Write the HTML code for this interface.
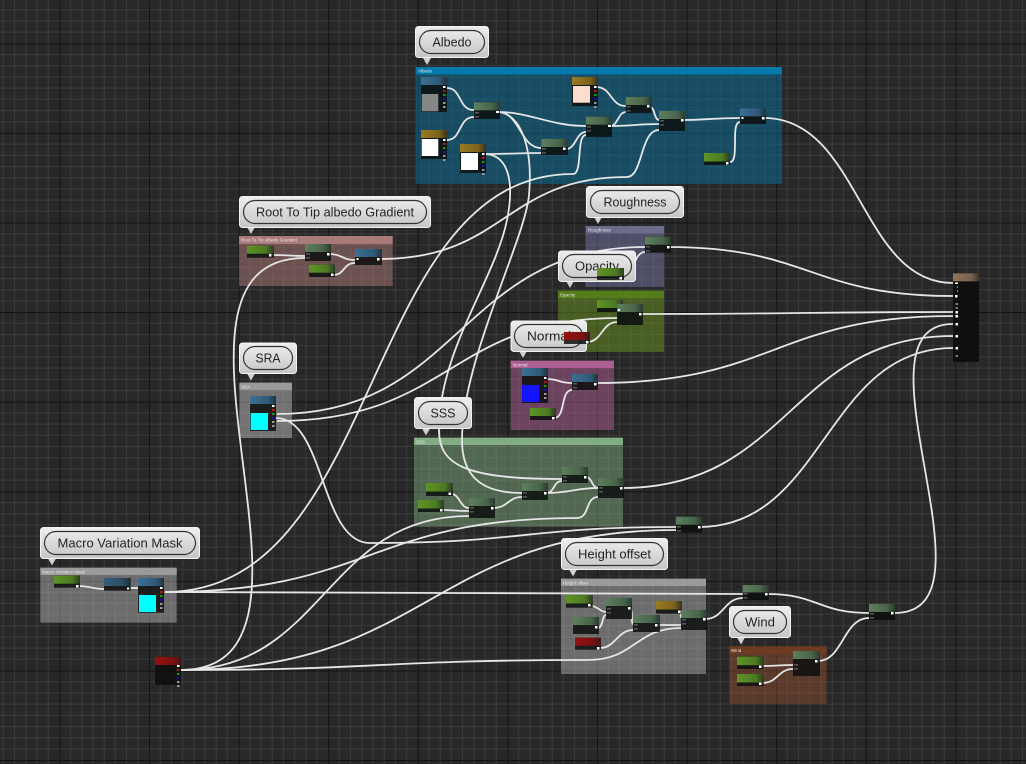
<!DOCTYPE html>
<html><head><meta charset="utf-8"><style>
html,body{margin:0;padding:0;background:#282828}
svg{display:block}
.w{fill:none;stroke:#e6e6e6;stroke-width:1.8}
.b{fill:rgba(12,14,14,.84)}
.p{fill:#fff}
.t{font:13px "Liberation Sans",sans-serif;fill:#242424;text-anchor:middle}
.h{font:4.5px "Liberation Sans",sans-serif;fill:#e8e8e8}
.pill{fill:none;stroke:#333;stroke-width:1.2}
.bub{fill:url(#bg);stroke:#f2f2f2;stroke-width:1}
.soft{filter:blur(.3px)}
</style></head><body>
<svg xmlns="http://www.w3.org/2000/svg" width="1026" height="764" viewBox="0 0 1026 764">
<defs>
<pattern id="grid" patternUnits="userSpaceOnUse" x="59.4" y="43.3" width="89.6" height="89.6">
<path d="M11.2 0V89.6M22.4 0V89.6M33.6 0V89.6M44.8 0V89.6M56 0V89.6M67.2 0V89.6M78.4 0V89.6M0 11.2H89.6M0 22.4H89.6M0 33.6H89.6M0 44.8H89.6M0 56H89.6M0 67.2H89.6M0 78.4H89.6" stroke="#3b3b3b" stroke-width="1.1" fill="none"/>
<path d="M.4 0V89.6M0 .4H89.6" stroke="#141414" stroke-width="1.1" fill="none"/>
</pattern>
<linearGradient id="bg" x1="0" y1="0" x2="0" y2="1"><stop offset="0" stop-color="#eeeeee"/><stop offset="1" stop-color="#c6c6c6"/></linearGradient>
<linearGradient id="G"><stop offset="0" stop-color="#5d7f5c"/><stop offset=".7" stop-color="#48644a"/><stop offset="1" stop-color="#2a3a30"/></linearGradient>
<linearGradient id="L"><stop offset="0" stop-color="#5f9425"/><stop offset=".7" stop-color="#4c7a22"/><stop offset="1" stop-color="#2c3a20"/></linearGradient>
<linearGradient id="B"><stop offset="0" stop-color="#3c6f94"/><stop offset=".7" stop-color="#2f5a78"/><stop offset="1" stop-color="#22323c"/></linearGradient>
<linearGradient id="O"><stop offset="0" stop-color="#9a7a20"/><stop offset=".7" stop-color="#7c621c"/><stop offset="1" stop-color="#3a3220"/></linearGradient>
<linearGradient id="R"><stop offset="0" stop-color="#961010"/><stop offset=".7" stop-color="#7c1010"/><stop offset="1" stop-color="#3a1a1a"/></linearGradient>
<linearGradient id="F"><stop offset="0" stop-color="#8f7358"/><stop offset=".7" stop-color="#78634f"/><stop offset="1" stop-color="#40382e"/></linearGradient>
<g id="pins"><rect x="0" y="0" width="2.5" height="2" fill="#fff"/><rect x="0" y="4" width="2.5" height="2" fill="#d01010"/><rect x="0" y="8" width="2.5" height="2" fill="#10a010"/><rect x="0" y="12" width="2.5" height="2" fill="#1010c0"/><rect x="0" y="16" width="2.5" height="2" fill="#999"/><rect x="0" y="20" width="2.5" height="2" fill="#999"/></g>
<g id="in"><rect x="0" y="0" width="4" height="1.6" fill="#555"/><rect x="0" y="4" width="4" height="1.6" fill="#555"/></g>
</defs>
<rect width="1026" height="764" fill="#282828"/>
<g class="soft">
<rect width="1026" height="764" fill="url(#grid)"/>

<!-- comment boxes -->
<rect x="415.5" y="67" width="366.5" height="117" fill="rgba(8,112,158,.5)"/><rect x="415.5" y="67" width="366.5" height="7.5" fill="#0079ab"/><text x="418" y="72.3" class="h">Albedo</text>
<rect x="239" y="236" width="153.7" height="50" fill="rgba(190,130,130,.45)"/><rect x="239" y="236" width="153.7" height="8" fill="#a87a7a"/><text x="241" y="241.5" class="h">Root To Tip albedo Gradient</text>
<rect x="585.7" y="226" width="78.3" height="61" fill="rgba(130,130,190,.42)"/><rect x="585.7" y="226" width="78.3" height="7.3" fill="#6b6b8b"/><text x="588" y="231.5" class="h">Roughness</text>
<rect x="558" y="290.7" width="106" height="61.3" fill="rgba(110,160,30,.45)"/><rect x="558" y="290.7" width="106" height="7.6" fill="#567d1c"/><text x="560" y="296.5" class="h">Opacity</text>
<rect x="510.7" y="360.7" width="103.3" height="69.3" fill="rgba(190,100,160,.45)"/><rect x="510.7" y="360.7" width="103.3" height="7.3" fill="#ab5f92"/><text x="513" y="366.5" class="h">Normal</text>
<rect x="239.3" y="382.7" width="52.7" height="55.3" fill="rgba(220,220,220,.42)"/><rect x="239.3" y="382.7" width="52.7" height="7.3" fill="#9a9a9a"/><text x="241" y="388.5" class="h">SRA</text>
<rect x="414" y="437.7" width="209" height="89" fill="rgba(140,190,140,.42)"/><rect x="414" y="437.7" width="209" height="7.3" fill="#82ac84"/><text x="416" y="443.5" class="h">SSS</text>
<rect x="40.3" y="567.7" width="136.4" height="55" fill="rgba(220,220,220,.38)"/><rect x="40.3" y="567.7" width="136.4" height="7.3" fill="#9a9a9a"/><text x="42" y="573.5" class="h">Macro Variation Mask</text>
<rect x="561" y="578.7" width="145" height="95.3" fill="rgba(220,220,220,.38)"/><rect x="561" y="578.7" width="145" height="7.3" fill="#9a9a9a"/><text x="563" y="584.5" class="h">Height offset</text>
<rect x="729.3" y="646.3" width="97.4" height="57.4" fill="rgba(170,90,50,.38)"/><rect x="729.3" y="646.3" width="97.4" height="7.7" fill="#6e3a22"/><text x="731" y="652" class="h">Wind</text>

<!-- wires -->
<g class="w">
<path d="M447 88C462 88 458 110 474 110"/>
<path d="M447 140C462 140 458 117 474 117"/>
<path d="M498 112C530 112 550 126 586 126"/>
<path d="M498 112C520 112 520 148 541 148"/>
<path d="M486 154C510 154 520 153 541 153"/>
<path d="M566 149C576 149 576 132 586 132"/>
<path d="M610 126C630 126 640 124 659 124"/>
<path d="M610 126C618 126 618 112 626 112"/>
<path d="M596 87C612 87 610 106 626 106"/>
<path d="M650 107C655 107 654 120 659 120"/>
<path d="M683 120C700 120 720 118 740 118"/>
<path d="M730 162C740 162 730 122 740 122"/>
<path d="M764 118C860 118 860 283 953 283"/>
<path d="M668 247C810 247 810 296 953 296"/>
<path d="M640 314C800 314 800 312 953 312"/>
<path d="M596 383C775 383 775 316 953 316"/>
<path d="M622 488C790 488 790 336 953 336"/>
<path d="M699 527C825 527 825 348 953 348"/>
<path d="M895 613C1005 613 845 324 953 324"/>
<path d="M165 592C450 592 450 594 743 594"/>
<path d="M165 592C370 592 370 518 577 518C590 518 585 497 598 497"/>
<path d="M165 592C385 592 360 174 573 174C583 174 576 135 586 135"/>
<path d="M181 670C325 670 325 516 469 516"/>
<path d="M181 670C430 670 430 530 676 530"/>
<path d="M181 670C380 670 380 660 588 660C635 660 635 628 681 628"/>
<path d="M181 670C357 670 129 258 305 258"/>
<path d="M276 418C325 418 320 543 370 543C525 543 525 527 676 527"/>
<path d="M277 414C460 414 460 247 645 247"/>
<path d="M277 421C450 421 450 318 618 318"/>
<path d="M380 259C505 259 505 177 627 177C643 177 640 130 659 130"/>
<path d="M486 154C510 156 514 185 507 220C495 280 439 350 439 430C439 465 465 479 562 479"/>
<path d="M498 112C522 114 533 150 529 195C525 240 462 360 462 440C462 475 480 493 522 493"/>
<path d="M272 255C288 255 290 256 305 256"/>
<path d="M329 254C342 254 342 260 355 260"/>
<path d="M333 275C345 275 343 263 355 263"/>
<path d="M451 494C460 494 460 508 469 508"/>
<path d="M442 510C455 510 455 511 469 511"/>
<path d="M493 508C508 508 508 497 522 497"/>
<path d="M546 493C555 493 553 481 562 481"/>
<path d="M546 493C570 493 575 488 598 488"/>
<path d="M586 477C592 477 592 488 598 488"/>
<path d="M546 379C560 379 558 383 572 383"/>
<path d="M554 418C566 418 560 390 572 390"/>
<path d="M587 342C602 342 602 322 617 322"/>
<path d="M622 278C634 278 633 252 645 252"/>
<path d="M78 586C90 586 92 589 104 589"/>
<path d="M129 588H138"/>
<path d="M591 606C598 606 600 612 606 612"/>
<path d="M598 628C603 628 602 615 606 615"/>
<path d="M630 608C633 608 631 624 633 624"/>
<path d="M600 648C615 648 618 630 633 630"/>
<path d="M658 625C670 625 670 625 681 625"/>
<path d="M680 612C682 612 680 617 681 617"/>
<path d="M705 619C724 619 724 598 743 598"/>
<path d="M767 594C818 594 818 613 869 613"/>
<path d="M818 661C843 661 843 618 869 618"/>
<path d="M762 666C778 666 778 665 793 665"/>
<path d="M762 683C778 683 778 669 793 669"/>
</g>

<!-- nodes: albedo -->
<rect class="b" x="421" y="77" width="26" height="35"/><rect x="421" y="77" width="26" height="8" fill="url(#B)"/><rect x="421.7" y="94" width="16.6" height="17.3" fill="#868686"/><use href="#pins" x="443" y="86"/>
<rect class="b" x="421" y="130" width="26" height="29"/><rect x="421" y="130" width="26" height="8" fill="url(#O)"/><rect x="421.7" y="139" width="16.6" height="17" fill="#fff"/><use href="#pins" x="443" y="139"/>
<rect class="b" x="460" y="144" width="26" height="29"/><rect x="460" y="144" width="26" height="8" fill="url(#O)"/><rect x="461" y="153" width="17" height="17" fill="#fff"/><use href="#pins" x="482" y="153"/>
<rect class="b" x="572" y="77" width="26" height="29"/><rect x="572" y="77" width="26" height="8" fill="url(#O)"/><rect x="573" y="86" width="17" height="16.7" fill="#ffdccc"/><use href="#pins" x="594" y="86"/>
<rect class="b" x="474" y="102.3" width="26" height="16.7"/><rect x="474" y="102.3" width="26" height="8" fill="url(#G)"/><rect class="p" x="496" y="111" width="3" height="2"/><use href="#in" x="475" y="112"/>
<rect class="b" x="625.7" y="97" width="26" height="16"/><rect x="625.7" y="97" width="26" height="8" fill="url(#G)"/><rect class="p" x="647" y="105" width="2.5" height="2.5"/><use href="#in" x="626.5" y="106"/>
<rect class="b" x="586" y="116.7" width="26" height="20.3"/><rect x="586" y="116.7" width="26" height="8" fill="url(#G)"/><rect class="p" x="608" y="125" width="3" height="2"/><use href="#in" x="587" y="126"/>
<rect class="b" x="659" y="111" width="26" height="20"/><rect x="659" y="111" width="26" height="8" fill="url(#G)"/><rect class="p" x="681" y="119" width="2.5" height="2.5"/><use href="#in" x="660" y="120"/>
<rect class="b" x="541.3" y="139" width="26.7" height="16"/><rect x="541.3" y="139" width="26.7" height="8" fill="url(#G)"/><rect class="p" x="563" y="147.5" width="2.5" height="2.5"/><use href="#in" x="542" y="148"/>
<rect class="b" x="740" y="108.3" width="26" height="15.7"/><rect x="740" y="108.3" width="26" height="8" fill="url(#B)"/><rect class="p" x="762" y="117" width="2.5" height="2.5"/><rect class="p" x="741.5" y="117" width="2" height="2"/>
<rect class="b" x="704" y="153" width="26" height="12"/><rect x="704" y="153" width="26" height="8.5" fill="url(#L)"/><rect class="p" x="726" y="162" width="2.5" height="2.5"/>

<!-- root to tip -->
<rect class="b" x="247" y="245.7" width="27" height="12"/><rect x="247" y="245.7" width="27" height="8" fill="url(#L)"/><rect class="p" x="269" y="254" width="2.5" height="2.5"/>
<rect class="b" x="305" y="244" width="26" height="17"/><rect x="305" y="244" width="26" height="8" fill="url(#G)"/><rect class="p" x="327" y="253" width="2.5" height="2.5"/><use href="#in" x="306" y="253"/>
<rect class="b" x="309" y="264.7" width="26" height="12.3"/><rect x="309" y="264.7" width="26" height="8" fill="url(#L)"/><rect class="p" x="331" y="273.5" width="2.5" height="2.5"/>
<rect class="b" x="355" y="249" width="27" height="16"/><rect x="355" y="249" width="27" height="8" fill="url(#B)"/><rect class="p" x="377" y="258" width="2.5" height="2.5"/><rect class="p" x="356.5" y="258" width="2" height="2"/>

<!-- roughness, opacity lower -->
<rect class="b" x="645" y="236.7" width="26" height="16"/><rect x="645" y="236.7" width="26" height="8" fill="url(#G)"/><rect class="p" x="667" y="246" width="2.5" height="2.5"/><use href="#in" x="646" y="246"/>
<rect class="b" x="597" y="300" width="26" height="12"/><rect x="597" y="300" width="26" height="8" fill="url(#L)"/>
<rect class="b" x="617" y="304" width="26" height="21"/><rect x="617" y="304" width="26" height="8" fill="url(#G)"/><rect class="p" x="639" y="313" width="2.5" height="2.5"/><rect class="p" x="618" y="309" width="2" height="2"/>

<!-- normal -->
<rect class="b" x="522" y="368" width="26" height="35"/><rect x="522" y="368" width="26" height="8" fill="url(#B)"/><rect x="522" y="385" width="17.3" height="17" fill="#1414ff"/><use href="#pins" x="544" y="377"/>
<rect class="b" x="572" y="374" width="26" height="16"/><rect x="572" y="374" width="26" height="8" fill="url(#B)"/><rect class="p" x="594" y="383" width="2.5" height="2.5"/><use href="#in" x="573" y="383"/>
<rect class="b" x="530" y="408" width="26" height="12"/><rect x="530" y="408" width="26" height="8" fill="url(#L)"/><rect class="p" x="552" y="417" width="2.5" height="2.5"/>

<!-- SRA -->
<rect class="b" x="250" y="396" width="26" height="35"/><rect x="250" y="396" width="26" height="8" fill="url(#B)"/><rect x="250.7" y="413" width="17.3" height="17" fill="#00ffff"/><use href="#pins" x="272" y="405"/>

<!-- SSS -->
<rect class="b" x="426" y="483" width="27" height="13"/><rect x="426" y="483" width="27" height="8.5" fill="url(#L)"/><rect class="p" x="448.5" y="492.5" width="2.5" height="2.5"/>
<rect class="b" x="418" y="500" width="26" height="12"/><rect x="418" y="500" width="26" height="8.5" fill="url(#L)"/><rect class="p" x="440" y="509" width="2.5" height="2.5"/>
<rect class="b" x="469" y="498" width="26" height="20"/><rect x="469" y="498" width="26" height="8" fill="url(#G)"/><rect class="p" x="491" y="507" width="2.5" height="2.5"/><use href="#in" x="470" y="507"/>
<rect class="b" x="522" y="483" width="26" height="17"/><rect x="522" y="483" width="26" height="8" fill="url(#G)"/><rect class="p" x="544" y="492" width="2.5" height="2.5"/><use href="#in" x="523" y="492"/>
<rect class="b" x="562" y="467" width="26" height="16"/><rect x="562" y="467" width="26" height="8" fill="url(#G)"/><rect class="p" x="584" y="476" width="2.5" height="2.5"/><use href="#in" x="563" y="476"/>
<rect class="b" x="598" y="478" width="26" height="20"/><rect x="598" y="478" width="26" height="8" fill="url(#G)"/><rect class="p" x="620" y="487" width="2.5" height="2.5"/><use href="#in" x="599" y="487"/>
<rect class="b" x="676" y="516.7" width="26" height="16"/><rect x="676" y="516.7" width="26" height="8" fill="url(#G)"/><rect class="p" x="698" y="526" width="2.5" height="2.5"/><use href="#in" x="677" y="526"/>

<!-- macro -->
<rect class="b" x="54" y="575.7" width="26" height="12"/><rect x="54" y="575.7" width="26" height="8" fill="url(#L)"/><rect class="p" x="76" y="585" width="2.5" height="2.5"/>
<rect class="b" x="104" y="578" width="26.7" height="12.7"/><rect x="104" y="578" width="26.7" height="8" fill="url(#B)" opacity=".8"/><rect class="p" x="127" y="587.5" width="2" height="2"/>
<rect class="b" x="138" y="578" width="26" height="34.7"/><rect x="138" y="578" width="26" height="8" fill="url(#B)"/><rect x="139" y="595" width="17" height="17" fill="#00ffff"/><use href="#pins" x="160" y="587"/>
<rect class="b" x="155" y="657" width="26" height="28"/><rect x="155" y="657" width="26" height="8" fill="url(#R)"/><use href="#pins" x="177" y="665"/>

<!-- height -->
<rect class="b" x="566" y="595" width="26.7" height="12.7"/><rect x="566" y="595" width="26.7" height="8.5" fill="url(#L)"/><rect class="p" x="588" y="604" width="2.5" height="2.5"/>
<rect class="b" x="606" y="598" width="26" height="21"/><rect x="606" y="598" width="26" height="8" fill="url(#G)"/><rect class="p" x="628" y="607" width="2.5" height="2.5"/><use href="#in" x="607" y="608"/>
<rect class="b" x="573" y="617" width="26" height="17"/><rect x="573" y="617" width="26" height="8" fill="url(#G)"/><rect class="p" x="595" y="626" width="2.5" height="2.5"/>
<rect class="b" x="633" y="615" width="27" height="17"/><rect x="633" y="615" width="27" height="8" fill="url(#G)"/><rect class="p" x="655" y="624" width="2.5" height="2.5"/><use href="#in" x="634" y="624"/>
<rect class="b" x="656" y="601" width="26" height="12.7"/><rect x="656" y="601" width="26" height="8.5" fill="url(#O)"/><rect class="p" x="678" y="610.5" width="2.5" height="2.5"/>
<rect class="b" x="681" y="610" width="26" height="20"/><rect x="681" y="610" width="26" height="8" fill="url(#G)"/><rect class="p" x="703" y="618" width="2.5" height="2.5"/><use href="#in" x="682" y="619"/>
<rect class="b" x="575" y="637.7" width="26" height="12"/><rect x="575" y="637.7" width="26" height="8" fill="url(#R)"/><rect class="p" x="597" y="647" width="2.5" height="2.5"/>
<rect class="b" x="742.7" y="585" width="26.3" height="15"/><rect x="742.7" y="585" width="26.3" height="7.5" fill="url(#G)"/><rect class="p" x="765" y="593" width="2.5" height="2.5"/><use href="#in" x="743.5" y="593"/>

<!-- wind -->
<rect class="b" x="737" y="656.7" width="26.7" height="12.3"/><rect x="737" y="656.7" width="26.7" height="8.5" fill="url(#L)"/><rect class="p" x="759" y="665.5" width="2.5" height="2.5"/>
<rect class="b" x="737" y="674" width="26.7" height="12"/><rect x="737" y="674" width="26.7" height="8.5" fill="url(#L)"/><rect class="p" x="759" y="682.5" width="2.5" height="2.5"/>
<rect class="b" x="793" y="651" width="27" height="25"/><rect x="793" y="651" width="27" height="8" fill="url(#G)"/><rect class="p" x="815" y="660" width="2.5" height="2.5"/><use href="#in" x="794" y="664"/>
<rect class="b" x="869" y="604" width="26" height="16"/><rect x="869" y="604" width="26" height="8" fill="url(#G)"/><rect class="p" x="891" y="612" width="2.5" height="2.5"/><use href="#in" x="870" y="613"/>

<!-- final node -->
<rect x="953" y="273.3" width="26" height="88.7" fill="rgba(12,12,10,.9)"/><rect x="953" y="273.3" width="26" height="8" fill="url(#F)"/>
<g fill="#fff"><rect x="955" y="282.5" width="3" height="1.5"/><rect x="957" y="286.5" width="1" height="1"/><rect x="957" y="290.5" width="1" height="1"/><rect x="955" y="295" width="2.5" height="2.5"/><rect x="955.5" y="311" width="2.5" height="2.5"/><rect x="955.5" y="315" width="2.5" height="2.5"/><rect x="955.5" y="323" width="2.5" height="2.5"/><rect x="955.5" y="335" width="2.5" height="2.5"/><rect x="955.5" y="347" width="2.5" height="2.5"/></g>
<g fill="#777"><rect x="955.5" y="303" width="2.5" height="2"/><rect x="955.5" y="307" width="2.5" height="2"/><rect x="955.5" y="355" width="2.5" height="2"/></g>
</g>

<!-- bubbles -->
<path d="M423 58h8l-4 7z" fill="#d0d0d0"/><rect class="bub" x="415.5" y="26.5" width="73" height="31" rx="3"/><rect class="pill" x="419.5" y="30.5" width="65" height="23" rx="11.5"/><text class="t" x="452" y="46.5" textLength="39" lengthAdjust="spacingAndGlyphs">Albedo</text>
<path d="M247 227h8l-4 7z" fill="#d0d0d0"/><rect class="bub" x="239.5" y="196.5" width="191" height="31" rx="3"/><rect class="pill" x="243.5" y="200.5" width="183" height="23" rx="11.5"/><text class="t" x="335" y="216.5" textLength="158" lengthAdjust="spacingAndGlyphs">Root To Tip albedo Gradient</text>
<path d="M594 217h8l-4 7z" fill="#d0d0d0"/><rect class="bub" x="586.5" y="186.5" width="97" height="31" rx="3"/><rect class="pill" x="590.5" y="190.5" width="89" height="23" rx="11.5"/><text class="t" x="635" y="206.5" textLength="63" lengthAdjust="spacingAndGlyphs">Roughness</text>
<path d="M566 281h8l-4 7z" fill="#d0d0d0"/><rect class="bub" x="558.5" y="251" width="77" height="30.5" rx="3"/><rect class="pill" x="562.5" y="254.5" width="69" height="23" rx="11.5"/><text class="t" x="597" y="270.5" textLength="44" lengthAdjust="spacingAndGlyphs">Opacity</text>
<path d="M519 351h8l-4 7z" fill="#d0d0d0"/><rect class="bub" x="511" y="321" width="75.5" height="30.5" rx="3"/><rect class="pill" x="514.5" y="324.5" width="68" height="23" rx="11.5"/><text class="t" x="549" y="340.5" textLength="44" lengthAdjust="spacingAndGlyphs">Normal</text>
<path d="M247 373.5h8l-4 7z" fill="#d0d0d0"/><rect class="bub" x="239.5" y="343" width="57" height="30.5" rx="3"/><rect class="pill" x="243.5" y="346.5" width="49" height="23" rx="11.5"/><text class="t" x="268" y="362.5" textLength="25" lengthAdjust="spacingAndGlyphs">SRA</text>
<path d="M422 428.5h8l-4 7z" fill="#d0d0d0"/><rect class="bub" x="414.5" y="397.5" width="57" height="31" rx="3"/><rect class="pill" x="418.5" y="401.5" width="49" height="23" rx="11.5"/><text class="t" x="443" y="417.5" textLength="25" lengthAdjust="spacingAndGlyphs">SSS</text>
<path d="M48 558.5h8l-4 7z" fill="#d0d0d0"/><rect class="bub" x="40.5" y="527.5" width="159" height="31" rx="3"/><rect class="pill" x="44.5" y="531.5" width="151" height="23" rx="11.5"/><text class="t" x="120" y="547.5" textLength="125" lengthAdjust="spacingAndGlyphs">Macro Variation Mask</text>
<path d="M569 569.5h8l-4 7z" fill="#d0d0d0"/><rect class="bub" x="561.5" y="538.5" width="106" height="31" rx="3"/><rect class="pill" x="565.5" y="542.5" width="98" height="23" rx="11.5"/><text class="t" x="614.5" y="558.5" textLength="73" lengthAdjust="spacingAndGlyphs">Height offset</text>
<path d="M737 637.5h8l-4 7z" fill="#d0d0d0"/><rect class="bub" x="729.5" y="606.5" width="61" height="31" rx="3"/><rect class="pill" x="733.5" y="610.5" width="53" height="23" rx="11.5"/><text class="t" x="760" y="626.5" textLength="30" lengthAdjust="spacingAndGlyphs">Wind</text>

<!-- nodes above bubbles -->
<rect class="b" x="597" y="268" width="27" height="12"/><rect x="597" y="268" width="27" height="8" fill="url(#L)"/><rect class="p" x="619.5" y="277" width="2.5" height="2.5"/>
<rect class="b" x="564" y="332" width="26" height="12"/><rect x="564" y="332" width="26" height="8" fill="url(#R)"/><rect class="p" x="586" y="341" width="2.5" height="2.5"/>
</svg>
</body></html>
